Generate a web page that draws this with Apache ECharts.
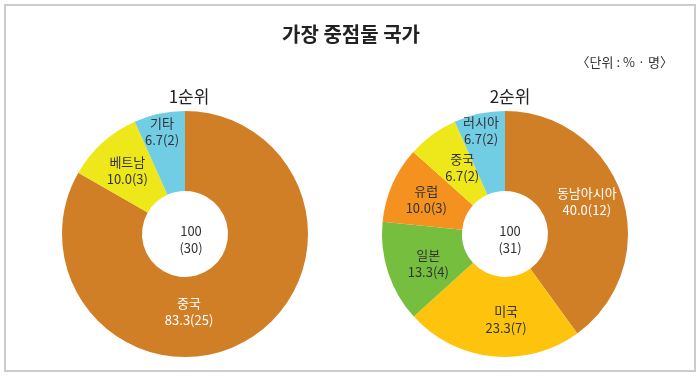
<!DOCTYPE html>
<html>
<head>
<meta charset="utf-8">
<script src="https://cdn.jsdelivr.net/npm/echarts@6/dist/echarts.min.js"></script>
<style>html,body{margin:0;padding:0;background:#fff;}#c{width:700px;height:379px;}</style>
</head>
<body>
<div id="c"></div>
<script>
const chartTitle = '가장 중점둘 국가';
const unitText = '〈단위 : % · 명〉';
const rank1Title = '1순위';
const rank1Names = ['중국', '베트남', '기타'];
const rank1Pct = [83.3, 10.0, 6.7];
const rank1Count = [25, 3, 2];
const rank1Total = [100, 30];
const rank2Title = '2순위';
const rank2Names = ['동남아시아', '미국', '일본', '유럽', '중국', '러시아'];
const rank2Pct = [40.0, 23.3, 13.3, 10.0, 6.7, 6.7];
const rank2Count = [12, 7, 4, 3, 2, 2];
const rank2Total = [100, 31];

const FONT = '"Noto Sans CJK KR", "Noto Sans", sans-serif';
const colors1 = ['#D17F27', '#EEE81A', '#70CDE4'];
const colors2 = ['#D17F27', '#FEC40D', '#75BE3E', '#F5911E', '#EEE81A', '#70CDE4'];
const whiteLabel = { '1-중국': true, '2-동남아시아': true };
// small nudges of a few labels away from the default mid-angle spot
const labelNudge = { '1-중국': [-39, 3], '1-기타': [-5, -18], '2-러시아': [-6, -19], '2-중국': [8, 3], '2-미국': [10, 0], '2-일본': [5, 3], '2-동남아시아': [0, -6] };

function buildData(key, names, pct, cnt, cols) {
  return names.map((n, i) => ({
    name: n,
    value: pct[i],
    count: cnt[i],
    itemStyle: { color: cols[i] },
    label: { color: whiteLabel[key + '-' + n] ? '#ffffff' : '#333333' }
  }));
}

function pieSeries(key, center, names, pct, cnt, cols) {
  return {
    type: 'pie',
    center: center,
    radius: [43, 123],
    startAngle: 90,
    clockwise: true,
    silent: true,
    animation: false,
    itemStyle: { borderWidth: 0 },
    label: {
      show: true,
      position: 'inside',
      fontFamily: FONT,
      fontSize: 13,
      lineHeight: 17,
      formatter: p => p.name + '\n' + p.value.toFixed(1) + '(' + p.data.count + ')'
    },
    labelLine: { show: false },
    labelLayout: function (params) {
      const n = labelNudge[key + '-' + names[params.dataIndex]];
      return n ? { dx: n[0], dy: n[1] } : {};
    },
    data: buildData(key, names, pct, cnt, cols)
  };
}

const chart = echarts.init(document.getElementById('c'), null, { renderer: 'canvas' });
chart.setOption({
  backgroundColor: '#ffffff',
  animation: false,
  title: [
    { text: chartTitle, left: 346, top: 19, textAlign: 'center',
      textStyle: { fontFamily: FONT, fontSize: 20, fontWeight: 'bold', color: '#222' } },
    { text: unitText, right: 22, top: 51,
      textStyle: { fontFamily: FONT, fontSize: 13, fontWeight: 'normal', color: '#333' } },
    { text: rank1Title, left: 184, top: 83, textAlign: 'center',
      textStyle: { fontFamily: FONT, fontSize: 17, fontWeight: 'normal', color: '#222' } },
    { text: rank2Title, left: 505, top: 83, textAlign: 'center',
      textStyle: { fontFamily: FONT, fontSize: 17, fontWeight: 'normal', color: '#222' } },
    { text: rank1Total[0] + '\n(' + rank1Total[1] + ')', left: 186, top: 218, textAlign: 'center',
      textStyle: { fontFamily: FONT, fontSize: 13, lineHeight: 17, fontWeight: 'normal', color: '#333' } },
    { text: rank2Total[0] + '\n(' + rank2Total[1] + ')', left: 505, top: 218, textAlign: 'center',
      textStyle: { fontFamily: FONT, fontSize: 13, lineHeight: 17, fontWeight: 'normal', color: '#333' } }
  ],
  graphic: [
    { type: 'rect', shape: { x: 5, y: 5, width: 690, height: 366 }, silent: true,
      style: { fill: 'none', stroke: '#cccccc', lineWidth: 2 } }
  ],
  series: [
    pieSeries('1', [185, 234], rank1Names, rank1Pct, rank1Count, colors1),
    pieSeries('2', [505, 234], rank2Names, rank2Pct, rank2Count, colors2)
  ]
});
</script>
</body>
</html>
